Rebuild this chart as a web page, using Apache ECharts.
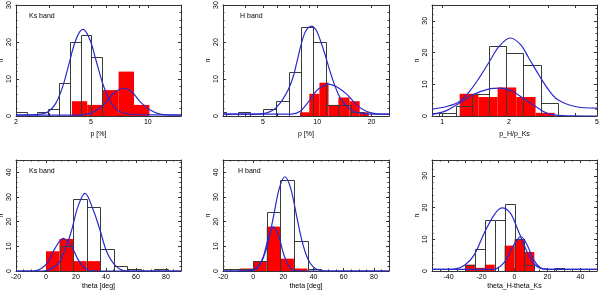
<!DOCTYPE html>
<html><head><meta charset="utf-8">
<script src="https://cdn.jsdelivr.net/npm/echarts@6/dist/echarts.min.js"></script>
<style>html,body{margin:0;padding:0;background:#fff}#c{width:600px;height:291px}</style>
</head><body><div id="c"></div>
<script>
// ---------- DATA ----------
// Panel 1: Ks band, p [%] (log axis)
const p1BlackEdges  = [2.0, 2.28, 2.60, 2.96, 3.38, 3.85, 4.40, 5.01, 5.71];
const p1BlackCounts = [1, 0, 1, 2, 9, 20, 22, 16];
const p1RedEdges    = [3.96, 4.77, 5.72, 7.0, 8.45, 10.2];
const p1RedCounts   = [4, 3, 7, 12, 3];
const p1FitAll = [[2.0,0.3],[2.34,0.3],[2.75,0.55],[2.99,1.3],[3.25,3.4],[3.53,7.8],[3.83,14.3],[4.16,20.7],[4.52,23.4],[4.91,20.9],[5.33,14.8],[5.79,8.5],[6.28,4.2],[6.82,1.8],[7.41,0.8],[8.74,0.35],[15,0.3]];
const p1FitRed = [[2.0,0.2],[4.3,0.25],[4.94,0.7],[5.35,1.6],[5.82,3.0],[6.57,6.1],[7.41,7.5],[8.2,6.6],[9.1,3.9],[10.3,1.6],[11.6,0.5],[13,0.25],[15,0.2]];
const p1XLabels = [2, 5, 10];
const p1XTickMarks = [2, 3, 4, 5, 6, 7, 8, 9, 10];
const p1YLabels = [0, 10, 20, 30];

// Panel 2: H band, p [%] (log axis)
const p2BlackEdges  = [2.65, 3.11, 3.65, 4.26, 5.0, 5.89, 6.93, 8.11, 9.53, 11.2, 13.1, 15.4, 18.1];
const p2BlackCounts = [1, 0, 1, 0, 2, 4, 12, 24, 20, 3, 3, 1];
const p2RedEdges    = [8.02, 9.03, 10.28, 11.55, 13.1, 15.1, 17.2, 19.3];
const p2RedCounts   = [1, 6, 9, 3, 5, 4, 1];
const p2FitAll = [[3,0.5],[4.6,0.5],[5.2,0.8],[5.6,1.4],[5.89,2.2],[6.4,4.3],[6.93,7.3],[7.35,10.6],[7.7,14.5],[8.34,21.2],[8.8,23.6],[9.33,24.3],[9.8,23.4],[10.13,22.0],[11.0,16.9],[11.96,11.0],[13.3,5.2],[14.9,2.2],[16.5,1.0],[18.8,0.6],[25,0.5]];
const p2FitRed = [[3,0.5],[7.2,0.5],[8.0,1.2],[8.8,3.4],[9.8,6.6],[10.6,7.9],[11.5,8.6],[12.8,7.9],[14.7,5.7],[16.5,3.0],[18.8,1.2],[21.5,0.6],[25,0.5]];
const p2XLabels = [5, 10, 20];
const p2XTickMarks = [3, 4, 5, 6, 7, 8, 9, 10, 20];
const p2YLabels = [0, 10, 20, 30];

// Panel 3: p_H/p_Ks (log axis)
const p3BlackEdges  = [0.82, 0.97, 1.15, 1.367, 1.62, 1.94, 2.32, 2.78, 3.33];
const p3BlackCounts = [1, 1, 3, 7, 22, 20, 16, 4];
const p3RedEdges    = [1.2, 1.46, 1.78, 2.16, 2.64, 3.22];
const p3RedCounts   = [7, 6, 9, 6, 1];
const p3FitAll = [[0.9,2.2],[1.046,3.0],[1.2,4.6],[1.33,7.8],[1.47,12],[1.62,16.7],[1.81,22],[2.03,24.6],[2.26,22.5],[2.46,18.3],[2.73,13],[3.02,8.3],[3.33,5.1],[3.98,3.0],[5,2.5]];
const p3FitRed = [[0.9,0.5],[1.046,1.7],[1.2,4.1],[1.375,6.7],[1.62,8.5],[1.84,8.8],[2.07,7.8],[2.38,5.1],[2.64,3.0],[2.97,0.9],[3.33,0.2],[3.8,0.05],[5,0]];
const p3XLabels = [1, 2, 5];
const p3XTickMarks = [0.9, 1, 2, 3, 4, 5];
const p3YLabels = [0, 10, 20, 30];

// Panel 4: Ks band, theta [deg]
const p4BlackEdges  = [0, 9, 18, 27, 36, 45, 54, 63, 72, 81];
const p4BlackCounts = [0, 10, 29, 26, 9, 2, 1, 0, 1];
const p4RedEdges    = [0, 9, 18, 27, 36];
const p4RedCounts   = [8, 13, 4, 4];
const p4FitAll = [[-20,0],[-5,0],[1.5,0.4],[8.2,3.1],[12.7,8.5],[17.1,16.6],[21.5,26.5],[26,31.5],[31.5,24.7],[36,16.6],[40.5,7.8],[46,2.4],[52.7,0.1],[60,0],[90,0]];
const p4FitRed = [[-20,0],[-10,0],[-7.3,0.1],[-2.9,1.1],[1.5,3.8],[6,9.2],[11.5,13.2],[17.1,9.8],[21.5,4.5],[26,1.1],[30.5,0.1],[40,0],[90,0]];
const p4XLabels = [-20, 0, 20, 40, 60, 80];
const p4YLabels = [0, 10, 20, 30, 40];

// Panel 5: H band, theta [deg]
const p5BlackEdges  = [-27, -18, -9, 0, 9, 18, 27, 36, 45];
const p5BlackCounts = [1, 1, 1, 4, 24, 37, 12, 1];
const p5RedEdges    = [-9, 0, 9, 18, 27, 36];
const p5RedCounts   = [1, 4, 18, 5, 1];
const p5FitAll = [[-20,0],[-5,0],[-0.6,0.4],[3,1.7],[6.6,5.2],[10.2,12.4],[13.8,23.2],[17.4,33.7],[21,38.2],[24.75,33.7],[28.5,23.2],[32.25,12.4],[36,5.2],[39.75,1.7],[43.5,0.4],[50,0],[90,0]];
const p5FitRed = [[-20,0],[-5,0],[0,0.3],[3.3,1.7],[6.7,5.8],[10,13.2],[13.3,17.9],[16.7,14.6],[20,7.2],[23.3,2.4],[26.7,0.3],[35,0],[90,0]];
const p5XLabels = [-20, 0, 20, 40, 60, 80];
const p5YLabels = [0, 10, 20, 30, 40];

// Panel 6: theta_H - theta_Ks
const p6BlackEdges  = [-30, -24, -18, -12, -6, 0, 6, 12, 18, 24, 30];
const p6BlackCounts = [2, 7, 16, 16, 21, 10, 2, 0, 0, 1];
const p6RedEdges    = [-30, -24, -18, -12, -6, 0, 6, 12];
const p6RedCounts   = [2, 1, 2, 0, 8, 10, 6];
const p6FitAll = [[-50,0.5],[-42,0.5],[-36.2,0.6],[-30.1,1.9],[-24.4,5.1],[-18.3,12],[-12.2,17.8],[-7.7,19.9],[-2.6,18.3],[2.4,12.5],[7.6,6.1],[12.6,1.9],[18.7,0.6],[25,0.5],[50,0.5]];
const p6FitRed = [[-50,0.5],[-15,0.5],[-11.8,0.6],[-5.7,3.0],[-1.6,7.2],[2.4,10.4],[4,10.8],[7.6,8.3],[11.6,3.5],[15.7,1.0],[18.7,0.6],[25,0.5],[50,0.5]];
const p6XLabels = [-40, -20, 0, 20, 40];
const p6YLabels = [0, 10, 20, 30];

const bandLabels = ['Ks band', 'H band', '', 'Ks band', 'H band', ''];
const xNames = ['p [%]', 'p [%]', 'p_H/p_Ks', 'theta [deg]', 'theta [deg]', 'theta_H-theta_Ks'];
const yName = 'n';

// ---------- assembly ----------
const panels = [
  {be:p1BlackEdges, bc:p1BlackCounts, re:p1RedEdges, rc:p1RedCounts, fa:p1FitAll, fr:p1FitRed, xl:p1XLabels, xt:p1XTickMarks, yl:p1YLabels},
  {be:p2BlackEdges, bc:p2BlackCounts, re:p2RedEdges, rc:p2RedCounts, fa:p2FitAll, fr:p2FitRed, xl:p2XLabels, xt:p2XTickMarks, yl:p2YLabels},
  {be:p3BlackEdges, bc:p3BlackCounts, re:p3RedEdges, rc:p3RedCounts, fa:p3FitAll, fr:p3FitRed, xl:p3XLabels, xt:p3XTickMarks, yl:p3YLabels},
  {be:p4BlackEdges, bc:p4BlackCounts, re:p4RedEdges, rc:p4RedCounts, fa:p4FitAll, fr:p4FitRed, xl:p4XLabels, yl:p4YLabels},
  {be:p5BlackEdges, bc:p5BlackCounts, re:p5RedEdges, rc:p5RedCounts, fa:p5FitAll, fr:p5FitRed, xl:p5XLabels, yl:p5YLabels},
  {be:p6BlackEdges, bc:p6BlackCounts, re:p6RedEdges, rc:p6RedCounts, fa:p6FitAll, fr:p6FitRed, xl:p6XLabels, yl:p6YLabels}
];
const layouts = [
  {left:16,  top:5,   width:165, height:111, xmin:2,   xmax:15, ymax:30, log:true, tx:13, nameGap:15},
  {left:223, top:5,   width:166, height:111, xmin:3,   xmax:25, ymax:30, log:true, tx:17, nameGap:15},
  {left:432, top:5,   width:165, height:111, xmin:0.9, xmax:5,  ymax:35, log:true, tx:0,  nameGap:15},
  {left:16,  top:160, width:165, height:111, xmin:-20, xmax:90, ymax:45, xInterval:20, xMinor:4, tx:13, nameGap:12},
  {left:223, top:160, width:166, height:111, xmin:-20, xmax:90, ymax:45, xInterval:20, xMinor:4, tx:15, nameGap:12},
  {left:432, top:160, width:165, height:111, xmin:-50, xmax:50, ymax:35, xInterval:10, xMinor:2, tx:0,  nameGap:12}
];

const FONT = '"Liberation Sans", Arial, sans-serif';
const AX = '#333';
const BLUE = '#2a2acc';
const grids = [], xAxes = [], yAxes = [], series = [], graphics = [];

function histData(edges, counts, f) {
  const out = [];
  counts.forEach((c, i) => { if (c > 0) out.push([f(edges[i]), f(edges[i + 1]), c]); });
  return out;
}
function rectItem(kind) {
  return function (params, api) {
    const a = api.coord([api.value(0), 0]);
    const b = api.coord([api.value(1), api.value(2)]);
    if (kind === 'red') {
      return {type:'rect', shape:{x:a[0], y:b[1], width:b[0]-a[0], height:a[1]-b[1]}, style:{fill:'#ff0000'}};
    }
    const x0 = Math.round(a[0]) + 0.5, x1 = Math.round(b[0]) + 0.5, y0 = Math.round(a[1]) + 0.5, y1 = Math.round(b[1]) + 0.5;
    return {type:'rect', shape:{x:x0, y:y1, width:x1-x0, height:y0-y1}, style:{fill:null, stroke:'#3a3a3a', lineWidth:1}};
  };
}

layouts.forEach((L, i) => {
  const P = panels[i];
  const f = L.log ? (v => Math.log10(v)) : (v => v);
  const fmt = L.log ? (v => String(Math.round(Math.pow(10, v) * 1000) / 1000)) : (v => String(Math.round(v)));
  grids.push({left:L.left, top:L.top, width:L.width, height:L.height, containLabel:false, outerBoundsMode:'none'});

  const tickStyle = {show:true, inside:true, length:3, lineStyle:{color:AX, width:1}};
  const mkX = (pos) => {
    const ax = {type:'value', gridIndex:i, position:pos, min:f(L.xmin), max:f(L.xmax),
      splitLine:{show:false}, axisLine:{show:true, onZero:false, lineStyle:{color:AX, width:1}},
      axisTick:Object.assign({}, tickStyle), axisPointer:{show:false}};
    if (L.log) {
      ax.axisTick.customValues = P.xt.map(f);
    } else {
      ax.interval = L.xInterval;
      ax.minorTick = {show:true, splitNumber:L.xMinor, length:1.5, lineStyle:{color:AX}};
    }
    if (pos === 'bottom') {
      ax.axisLabel = {show:true, customValues:P.xl.map(f), formatter:fmt, margin:3, fontSize:7, color:'#000', fontFamily:FONT};
      ax.name = xNames[i]; ax.nameLocation = 'middle'; ax.nameGap = L.nameGap; ax.nameMoveOverlap = false;
      ax.nameTextStyle = {fontSize:7, color:'#000', fontFamily:FONT};
    } else {
      ax.axisLabel = {show:false};
    }
    return ax;
  };
  xAxes.push(mkX('bottom')); xAxes.push(mkX('top'));

  const mkY = (pos) => {
    const ax = {type:'value', gridIndex:i, position:pos, min:0, max:L.ymax, interval:10,
      splitLine:{show:false}, axisLine:{show:true, onZero:false, lineStyle:{color:AX, width:1}},
      axisTick:Object.assign({}, tickStyle), minorTick:{show:true, splitNumber:5, length:1.5, lineStyle:{color:AX}},
      axisPointer:{show:false}};
    if (pos === 'left') {
      ax.axisLabel = {show:true, customValues:P.yl, rotate:90, margin:3, fontSize:7, color:'#000', fontFamily:FONT};
      ax.name = yName; ax.nameLocation = 'middle'; ax.nameGap = 11; ax.nameRotate = 90; ax.nameMoveOverlap = false;
      ax.nameTextStyle = {fontSize:7, color:'#000', fontFamily:FONT};
    } else {
      ax.axisLabel = {show:false};
    }
    return ax;
  };
  yAxes.push(mkY('left')); yAxes.push(mkY('right'));

  const xi = i * 2, yi = i * 2;
  series.push({type:'custom', xAxisIndex:xi, yAxisIndex:yi, clip:true, z:2, silent:true,
    data:histData(P.re, P.rc, f), encode:{x:[0,1], y:2}, renderItem:rectItem('red')});
  series.push({type:'custom', xAxisIndex:xi, yAxisIndex:yi, clip:true, z:3, silent:true,
    data:histData(P.be, P.bc, f), encode:{x:[0,1], y:2}, renderItem:rectItem('black')});
  [P.fa, P.fr].forEach(fit => {
    series.push({type:'line', xAxisIndex:xi, yAxisIndex:yi, z:4, silent:true, clip:true,
      data:fit.map(pt => [f(pt[0]), pt[1]]), smooth:0.35, showSymbol:false, symbol:'none',
      lineStyle:{color:BLUE, width:1.2}, animation:false});
  });

  if (bandLabels[i]) {
    graphics.push({type:'text', left:L.left + L.tx, top:L.top + 8,
      style:{text:bandLabels[i], font:'7px ' + FONT, fill:'#000'}});
  }
});

const chart = echarts.init(document.getElementById('c'), null, {renderer:'canvas', width:600, height:291});
chart.setOption({
  animation:false,
  backgroundColor:'#ffffff',
  grid:grids, xAxis:xAxes, yAxis:yAxes, series:series, graphic:graphics
});
</script></body></html>
